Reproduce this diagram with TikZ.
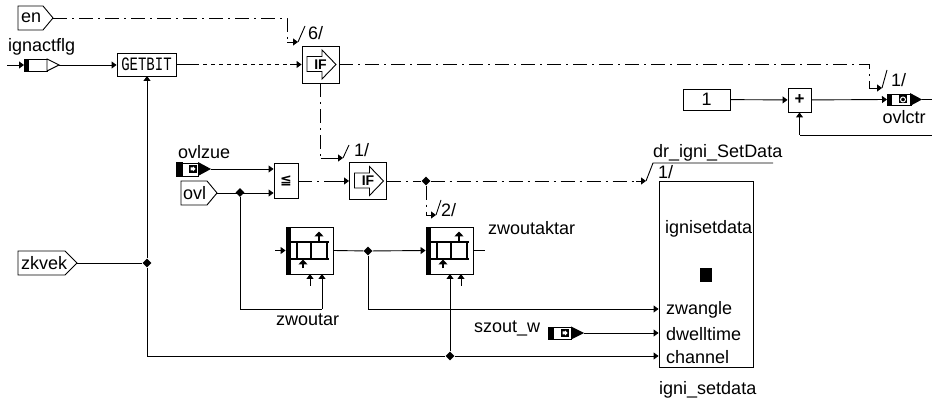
\documentclass[tikz,border=0pt]{standalone}
\usepackage{fontspec}
\setmainfont{Liberation Sans}
\newfontfamily\djv{DejaVu Sans}
\newfontfamily\lmo{Liberation Mono}
\usetikzlibrary{arrows.meta,shapes.geometric}
\tikzset{
  x=1pt,y=-1pt,
  wire/.style={line width=.9pt,black},
  arr/.style={wire,-{Triangle[length=5pt,width=7pt]}},
  bigarr/.style={line width=1.3pt,black,-{Triangle[length=5pt,width=9pt]}},
  dd/.style={dash pattern=on 14pt off 5pt on 2pt off 5pt},
  sd/.style={dash pattern=on 4pt off 4pt},
  blockbox/.style={draw,line width=.9pt,inner sep=0pt,fill=white},
  lbl/.style={inner sep=0pt,font=\fontsize{18}{18}\selectfont},
  junc/.style={diamond,fill=black,inner sep=0pt,minimum size=9pt},
  tagshape/.style={draw,line width=.9pt,fill=white,line join=miter},
  ifsym/.pic={
    \draw[line width=.9pt,fill=white] (-13.5,-8)--(1.5,-8)--(1.5,-14.5)--(15.5,0)--(1.5,14.5)--(1.5,7)--(-13.5,7)--cycle;
    \node[font=\bfseries\fontsize{14}{14}\selectfont,inner sep=0pt] at (0,0) {IF};
  },
  ladder/.pic={
    \fill (-23.5,-23.5) rectangle (-18.5,23.5);
    \draw[line width=1.3pt] (-18.5,-8.5)--(19.5,-8.5) (-18.5,8.5)--(19.5,8.5) (-12.5,-8.5)--(-12.5,8.5) (1.5,-8.5)--(1.5,8.5) (17.5,-8.5)--(17.5,8.5);
    \draw[bigarr] (9.5,-8.5)--(9.5,-19);
    \draw[bigarr] (-6.5,18)--(-6.5,9);
  },
}
\begin{document}
\begin{tikzpicture}
\useasboundingbox (0,0) rectangle (932,403);
% ---- nodes
\node[blockbox,minimum width=59pt,minimum height=23pt] (getbit) at (146.5,64.5) {};
\node[font=\lmo\fontsize{14}{14}\selectfont,inner sep=0pt,yscale=1.35,transform shape] at (getbit) {GETBIT};
\node[blockbox,minimum width=37pt,minimum height=37pt] (ifa) at (320.5,64.5) {};
\pic at (ifa) {ifsym};
\node[blockbox,minimum width=37pt,minimum height=37pt] (ifb) at (368,181) {};
\pic at (ifb) {ifsym};
\node[blockbox,minimum width=24pt,minimum height=35pt] (cmp) at (286,181) {};
\node[font=\djv\bfseries\fontsize{14}{14}\selectfont,inner sep=0pt] at (cmp) {≦};
\node[blockbox,minimum width=47pt,minimum height=47pt] (laa) at (309.5,250.5) {};
\pic at (laa) {ladder};
\node[blockbox,minimum width=47pt,minimum height=47pt] (lab) at (449.5,250.5) {};
\pic at (lab) {ladder};
\node[blockbox,minimum width=94pt,minimum height=186pt] (igni) at (706,274) {};
\fill (700,268) rectangle (712,282);
\node[blockbox,minimum width=47pt,minimum height=21pt,font=\fontsize{18}{18}\selectfont] (one) at (706.5,99.5) {1};
\node[blockbox,minimum width=23pt,minimum height=24pt,font=\bfseries\fontsize{17}{17}\selectfont] (plus) at (799.5,100) {+};
% tags
\draw[tagshape] (18,6)--(43,6)--(53,18)--(43,30)--(18,30)--cycle;
\coordinate (en) at (53,18);
\node[lbl,anchor=west] at (21,18) {en};
\draw[tagshape] (181,181)--(207,181)--(217,193)--(207,205)--(181,205)--cycle;
\coordinate (ovl) at (217,193);
\node[lbl,anchor=west] at (183,193) {ovl};
\draw[tagshape] (18,251)--(65,251)--(77,263)--(65,275)--(18,275)--cycle;
\coordinate (zkvek) at (77,263);
\node[lbl,anchor=west] at (21,263) {zkvek};
% ignactflg
\draw[line width=.9pt] (24,59.5) rectangle (47,71);
\fill (24,59.5) rectangle (29,71);
\draw[line width=.9pt,fill=white] (47,59)--(59,65)--(47,71)--cycle;
\coordinate (ig) at (24,65);\coordinate (igo) at (59,65);\coordinate (igs) at (7,65);
% ovlzue
\draw[line width=.9pt] (176,163) rectangle (198,176);
\fill (176,162.5) rectangle (183,176);
\fill (198,162)--(211,169)--(198,176)--cycle;
\fill (189,165) rectangle (197,173);
\fill[white] (190.5,167.5)--(193,167.5)--(193,166.5)--(195.5,169)--(193,171.5)--(193,170.5)--(190.5,170.5)--cycle;
\coordinate (oz) at (211,169);
% szout
\draw[line width=.9pt] (548,327) rectangle (571,339);
\fill (548,327) rectangle (554,339);
\fill (571,326.5)--(584,333)--(571,339.5)--cycle;
\fill (561,329) rectangle (569,337);
\fill[white] (562.5,331.5)--(565,331.5)--(565,330.5)--(567.5,333)--(565,335.5)--(565,334.5)--(562.5,334.5)--cycle;
\coordinate (sz) at (584,333);
% ovlctr
\draw[line width=.9pt] (887,94) rectangle (911,105.5);
\fill (887,94) rectangle (892,105.5);
\fill (910,93)--(922,99.5)--(910,106)--cycle;
\fill (899,95.5) rectangle (907,103.5);
\draw[white,line width=1pt] (903,99.5) circle (2.5);
\coordinate (oc) at (887,99.5);\coordinate (oco) at (922,99.5);\coordinate (ocend) at (932,99.5);
% junctions
\node[junc] (j1) at (147,263) {};
\node[junc] (j2) at (240,192.5) {};
\node[junc] (j3) at (426,181) {};
\node[junc] (j4) at (368,251) {};
\node[junc] (j5) at (450,356) {};
% free ends
\coordinate (fb) at (932,135);
\coordinate (stubl) at (275,250.5);
\coordinate (stubr) at (485,250.5);
% ---- connectors
\draw[arr] (igs)--(ig);
\draw[arr] (igo)--(getbit.west|-igo);
\draw[wire] (getbit.east)--(195,64.5);
\draw[wire,sd] (195,64.5)--(290,64.5);
\draw[arr] (290,64.5)--(ifa.west);
\draw[wire,dd] (en)--(287,18)--(287,42);
\draw[arr] (287,42)--(298,42);
\draw[wire] (298,42)--(305,26);
\draw[wire,dd] (ifa.east)--(869,64.5)--(869,88);
\draw[arr] (869,88)--(882,88);
\draw[wire] (882,88)--(887,70);
\draw[wire,dd] (ifa.south)--(320.5,158);
\draw[arr] (320.5,158)--(343,158);
\draw[wire] (343,158)--(349,145);
\draw[arr] (oz)--(cmp.west|-oz);
\draw[arr] (ovl)--(cmp.west|-ovl);
\draw[wire,dd] (cmp.east)--(335,181);
\draw[arr] (335,181)--(ifb.west);
\draw[wire,dd] (ifb.east)--(j3);
\draw[wire,dd] (j3)--(636,181);
\draw[arr] (636,181)--(646,181);
\draw[wire] (646,181)--(653,163)--(773,163);
\draw[wire,dd] (j3)--(426,215);
\draw[arr] (426,215)--(436,215);
\draw[wire] (436,215)--(441,200);
\draw[wire] (j2)--(240,309)--(322,309);
\draw[arr] (322,309)--(322,274);
\draw[arr] (310,286)--(310,274);
\draw[arr] (stubl)--(laa.west);
\draw[wire] (laa.east)--(j4);
\draw[arr] (j4)--(lab.west);
\draw[wire] (lab.east)--(stubr);
\draw[arr] (461,286)--(461,274);
\draw[wire] (j4)--(368,309);
\draw[arr] (368,309)--(igni.west|-0,309);
\draw[arr] (j5)--(450,274);
\draw[arr] (sz)--(igni.west|-sz);
\draw[wire] (zkvek)--(j1);
\draw[arr] (j1)--(147,76);
\draw[wire] (j1)--(147,356)--(j5);
\draw[arr] (j5)--(igni.west|-j5);
\draw[arr] (one)--(plus);
\draw[arr] (plus)--(oc);
\draw[wire] (oco)--(ocend);
\draw[wire] (fb)--(799.5,135);
\draw[arr] (799.5,135)--(plus.south);
% ---- labels
\node[lbl,anchor=west] at (8,47) {ignactflg};
\node[lbl,anchor=west] at (308,33) {6/};
\node[lbl,anchor=west] at (891,80) {1/};
\node[lbl] at (904,117) {ovlctr};
\node[lbl,anchor=west] at (178,152) {ovlzue};
\node[lbl,anchor=west] at (354,150) {1/};
\node[lbl,anchor=west] at (441,210) {2/};
\node[lbl,anchor=west] at (653,153) {dr\_igni\_SetData};
\node[lbl,anchor=west] at (658,172) {1/};
\node[lbl,anchor=west] at (488,228) {zwoutaktar};
\node[lbl,anchor=west] at (276,320) {zwoutar};
\node[lbl,anchor=west] at (474,328) {szout\_w};
\node[lbl,anchor=west] at (665,229) {ignisetdata};
\node[lbl,anchor=west] at (666,310) {zwangle};
\node[lbl,anchor=west] at (666,334) {dwelltime};
\node[lbl,anchor=west] at (666,357) {channel};
\node[lbl,anchor=west] at (659,390) {igni\_setdata};
\end{tikzpicture}
\end{document}
